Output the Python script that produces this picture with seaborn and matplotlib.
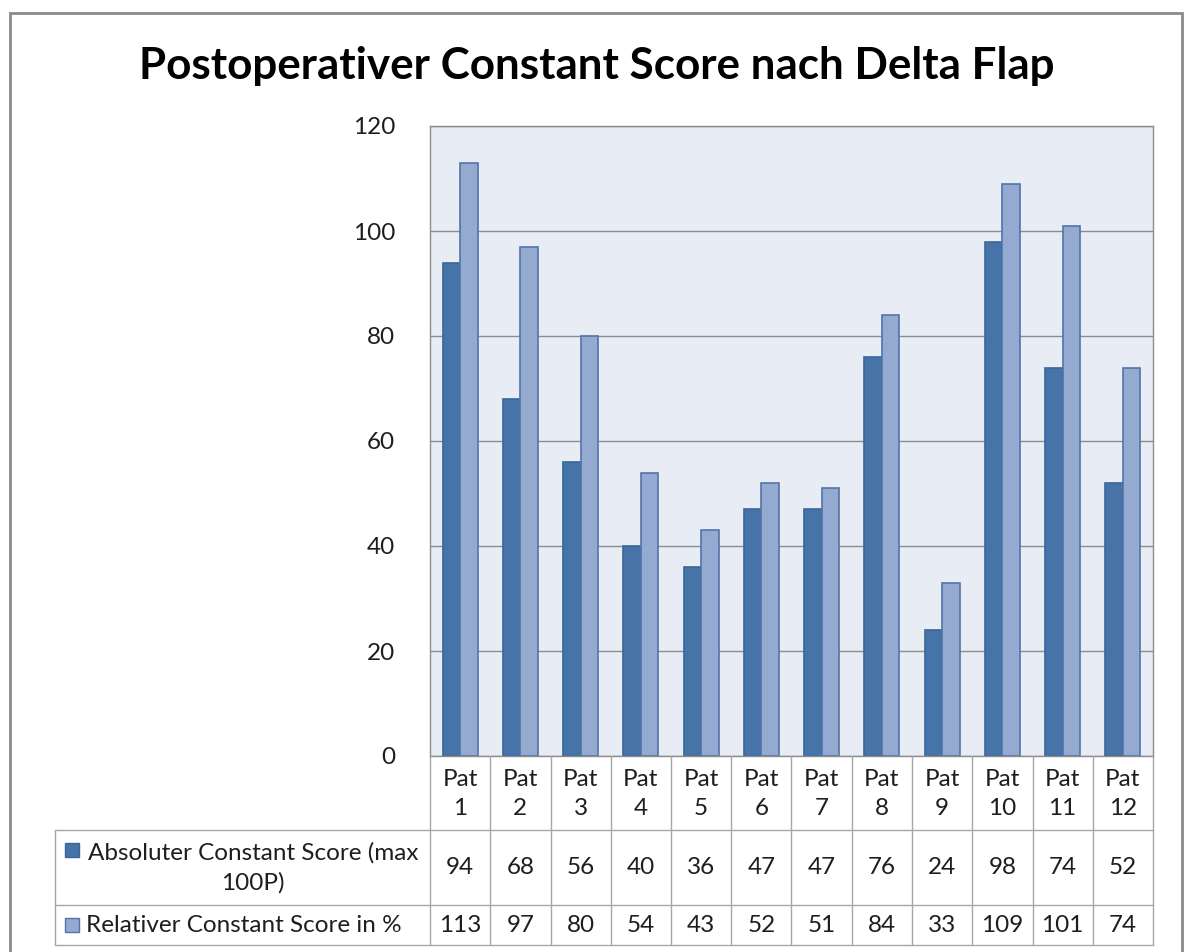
import pandas as pd
import seaborn as sns
import matplotlib.pyplot as plt
from matplotlib.patches import Rectangle
from matplotlib.lines import Line2D

patients = [f"Pat {i}" for i in range(1, 13)]
header_labels = [f"Pat\n{i}" for i in range(1, 13)]
absolute = [94, 68, 56, 40, 36, 47, 47, 76, 24, 98, 74, 52]
relative = [113, 97, 80, 54, 43, 52, 51, 84, 33, 109, 101, 74]
series = ["Absoluter Constant Score (max 100P)", "Relativer Constant Score in %"]
row_labels = ["Absoluter Constant Score (max\n100P)", "Relativer Constant Score in %"]
colors = ["#4673A8", "#95AAD1"]
edges = ["#3B6697", "#5274A8"]
title = "Postoperativer Constant Score nach Delta Flap"

df = pd.DataFrame({
    "patient": patients * 2,
    "value": absolute + relative,
    "series": [series[0]] * 12 + [series[1]] * 12,
})

W, H = 1187, 952
fx = lambda x: x / W
fy = lambda y: 1 - y / H
FS = 17.5
TXT = "#1E1E1E"

sns.set_style("white")
plt.rcParams["font.family"] = ["Lato", "DejaVu Sans"]

fig = plt.figure(figsize=(W / 100, H / 100), dpi=100)

# plot area
left, right, top, bottom = 430, 1153, 126, 756
ax = fig.add_axes([fx(left), fy(bottom), fx(right) - fx(left), fy(top) - fy(bottom)])
sns.barplot(data=df, x="patient", y="value", hue="series", palette=colors,
            width=0.58, saturation=1, legend=False, ax=ax)
for i, p in enumerate(ax.patches[:24]):
    p.set_edgecolor(edges[i // 12])
    p.set_linewidth(1.2)

ax.set_facecolor("#E8ECF5")
ax.set_ylim(0, 120)
ax.set_yticks(range(0, 121, 20))
ax.set_yticklabels([str(v) for v in range(0, 121, 20)], fontsize=FS, color=TXT)
ax.tick_params(axis="y", length=0, pad=25)
ax.set_xticks([])
ax.set_xlabel("")
ax.set_ylabel("")
ax.yaxis.grid(True, color="#8C8C8C", linewidth=1)
ax.set_axisbelow(True)
for s in ax.spines.values():
    s.set_color("#8C8C8C")
    s.set_linewidth(1)

fig.text(fx(597), fy(66), title, ha="center", va="center",
         fontsize=31.7, fontweight="bold", color="black")

# outer chart border
fig.add_artist(Rectangle((fx(10), fy(958)), fx(1182) - fx(10), fy(13) - fy(958),
                         transform=fig.transFigure, fill=False,
                         edgecolor="#8A8A8A", linewidth=2))

# data table
col_w = (right - left) / 12
row_y = [bottom, 830, 905, 945]
tab_left = 55
lc = "#A6A6A6"

def hline(x0, x1, y):
    fig.add_artist(Line2D([fx(x0), fx(x1)], [fy(y), fy(y)], transform=fig.transFigure,
                          color=lc, linewidth=1))

def vline(x, y0, y1):
    fig.add_artist(Line2D([fx(x), fx(x)], [fy(y0), fy(y1)], transform=fig.transFigure,
                          color=lc, linewidth=1))

for y in row_y[1:]:
    hline(tab_left, right, y)
vline(tab_left, row_y[1], row_y[3])
for i in range(13):
    vline(left + i * col_w, row_y[0], row_y[3])

for i, lab in enumerate(header_labels):
    cx = left + (i + 0.5) * col_w
    fig.text(fx(cx), fy((row_y[0] + row_y[1]) / 2 + 1), lab, ha="center", va="center",
             fontsize=FS, linespacing=1.5, color=TXT)
    fig.text(fx(cx), fy((row_y[1] + row_y[2]) / 2), str(absolute[i]), ha="center",
             va="center", fontsize=FS, color=TXT)
    fig.text(fx(cx), fy((row_y[2] + row_y[3]) / 2), str(relative[i]), ha="center",
             va="center", fontsize=FS, color=TXT)

for r, lab in enumerate(row_labels):
    y0, y1 = row_y[r + 1], row_y[r + 2]
    key_y = 843 if r == 0 else (y0 + y1) / 2 - 7
    fig.add_artist(Rectangle((fx(65), fy(key_y + 14)), fx(14), fy(0) - fy(14),
                             transform=fig.transFigure, facecolor=colors[r],
                             edgecolor=edges[r], linewidth=1))
    fig.text(fx(253 if r == 0 else 86), fy((y0 + y1) / 2), lab,
             ha="center" if r == 0 else "left", va="center", multialignment="center",
             fontsize=FS, linespacing=1.5, color=TXT)

fig.savefig("out.png", dpi=100)
